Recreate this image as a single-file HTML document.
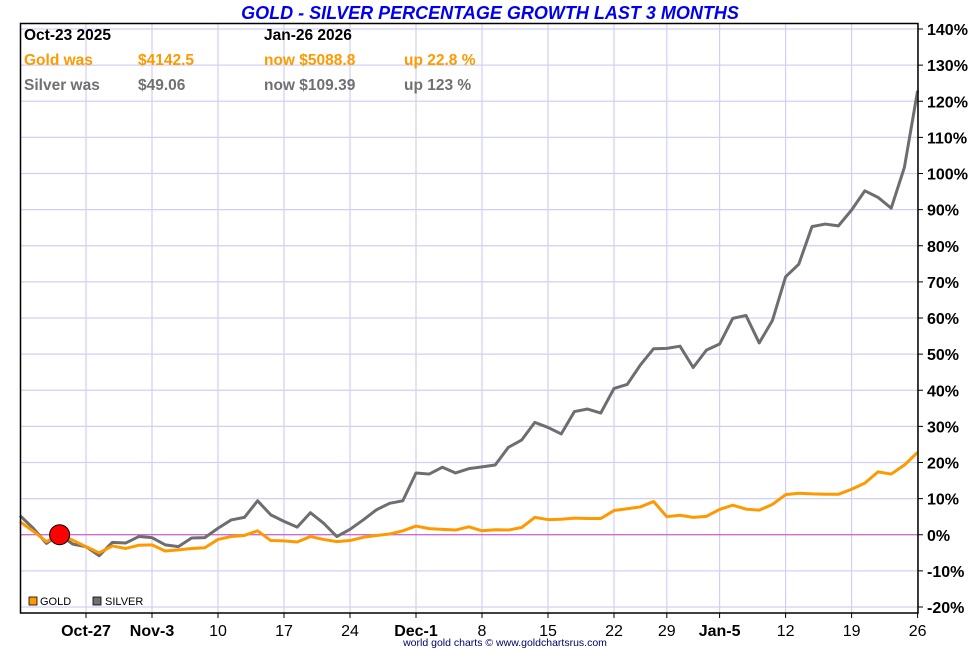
<!DOCTYPE html>
<html><head><meta charset="utf-8"><style>
html,body{margin:0;padding:0;background:#fff;}
svg{display:block;font-family:"Liberation Sans",sans-serif;}
</style></head><body>
<svg id="chart" width="980" height="650" viewBox="0 0 980 650">
<text x="490" y="19" text-anchor="middle" font-size="18" font-weight="bold" font-style="italic" fill="#0000ee">GOLD - SILVER PERCENTAGE GROWTH LAST 3 MONTHS</text>
<g id="grid"></g>
<line x1="20" y1="534.75" x2="918" y2="534.75" stroke="#cc44cc" stroke-width="1"/>
<g id="series"></g>
<rect x="20.5" y="23.5" width="897.5" height="589.5" fill="none" stroke="#000" stroke-width="1.5"/>
<g id="yticks"></g>
<g id="xticks"></g>
<g font-size="15.5" font-weight="bold" style="white-space:pre">
<text x="24" y="40" fill="#000">Oct-23  2025</text>
<text x="264" y="40" fill="#000">Jan-26  2026</text>
<text x="24" y="65" fill="#ff9900">Gold was</text>
<text x="138" y="65" fill="#ff9900">$4142.5</text>
<text x="264" y="65" fill="#ff9900">now $5088.8</text>
<text x="404" y="65" fill="#ff9900">up 22.8 %</text>
<text x="24" y="90" fill="#707070">Silver was</text>
<text x="138" y="90" fill="#707070">$49.06</text>
<text x="264" y="90" fill="#707070">now $109.39</text>
<text x="404" y="90" fill="#707070">up 123 %</text>
</g>
<g font-size="11">
<rect x="29" y="597" width="8" height="8" fill="#ff9900" stroke="#000" stroke-width="0.8"/>
<text x="40" y="605" fill="#000">GOLD</text>
<rect x="93" y="597" width="8" height="8" fill="#707070" stroke="#000" stroke-width="0.8"/>
<text x="105" y="605" fill="#000">SILVER</text>
</g>
<text x="505" y="646" text-anchor="middle" font-size="10.5" fill="#000066">world gold charts © www.goldchartsrus.com</text>
</svg>
<script>
const gold = [3.6,1.0,-1.9,0,-1.5,-3.3,-5.0,-3.1,-3.8,-2.9,-2.8,-4.5,-4.2,-3.8,-3.6,-1.3,-0.5,-0.2,1.1,-1.6,-1.7,-2.0,-0.5,-1.3,-1.9,-1.6,-0.7,-0.2,0.2,1.1,2.4,1.7,1.5,1.3,2.2,1.1,1.4,1.3,2.0,4.8,4.2,4.3,4.6,4.5,4.5,6.7,7.2,7.7,9.2,5.0,5.4,4.8,5.1,7.0,8.2,7.1,6.8,8.4,11.1,11.5,11.3,11.2,11.2,12.6,14.3,17.4,16.8,19.3,22.8];
const silver = [5.3,1.8,-2.4,0,-2.6,-3.3,-5.8,-2.1,-2.3,-0.5,-0.8,-2.8,-3.3,-0.9,-0.8,1.8,4.1,4.8,9.4,5.5,3.7,2.1,6.1,3.2,-0.5,1.5,4.1,6.9,8.7,9.4,17.1,16.8,18.7,17.1,18.3,18.8,19.3,24.2,26.2,31.1,29.7,27.9,34.1,34.8,33.7,40.5,41.6,47.0,51.5,51.6,52.2,46.3,51.1,52.8,59.9,60.7,53.1,59.3,71.4,74.9,85.3,86.0,85.5,89.9,95.2,93.4,90.4,101.7,122.9];
const yTicks = [140,130,120,110,100,90,80,70,60,50,40,30,20,10,0,-10,-20];
const xTickIdx = [5,10,15,20,25,30,35,40,45,49,53,58,63,68];
const xTickLabels = ["Oct-27","Nov-3","10","17","24","Dec-1","8","15","22","29","Jan-5","12","19","26"];
const xTickBold = [1,1,0,0,0,1,0,0,0,0,1,0,0,0];
const startIdx = 3;

const NS="http://www.w3.org/2000/svg";
const xs = i => 20 + i*13.2;
const ys = v => 534.75 - v*3.6125;
function mk(tag, attrs, parent, txt){const e=document.createElementNS(NS,tag);for(const k in attrs)e.setAttribute(k,attrs[k]);if(txt!==undefined)e.textContent=txt;parent.appendChild(e);return e;}
const grid=document.getElementById('grid'), yt=document.getElementById('yticks'), xt=document.getElementById('xticks'), ser=document.getElementById('series');
yTicks.forEach(v=>{
  const l=mk('line',{x1:20,x2:918,y1:ys(v),y2:ys(v),stroke:'#d0d0f4','stroke-width':1.2},grid);
  
  
  const t=mk('line',{x1:918,x2:923,y1:ys(v),y2:ys(v),stroke:'#000'},yt);
  
  
  const tx=mk('text',{x:927,y:ys(v)+6,'font-size':16,'font-weight':'bold',fill:'#000'},yt,v+'%');
  
  
});
xTickIdx.forEach((i,k)=>{
  const l=mk('line',{x1:xs(i),x2:xs(i),y1:23,y2:613,stroke:'#d0d0f4','stroke-width':1.2},grid);
  
  
  const t=mk('line',{x1:xs(i),x2:xs(i),y1:613,y2:618,stroke:'#000'},xt);
  
  
  const tx=mk('text',{x:xs(i),y:636,'text-anchor':'middle','font-size':16,'font-weight':xTickBold[k]?'bold':'normal',fill:'#000'},xt,xTickLabels[k]);
  
  
});
function line(data,color,name){
  const p=mk('polyline',{points:data.map((v,i)=>xs(i)+','+ys(v)).join(' '),fill:'none',stroke:color,'stroke-width':3,'stroke-linejoin':'round'},ser);
  
  
}
line(silver,'#6e6e6e','silver-line');
line(gold,'#ff9900','gold-line');
const dot=mk('circle',{cx:xs(startIdx),cy:ys(gold[startIdx]),r:10,fill:'#ff0000',stroke:'#000','stroke-width':1},ser);


</script>
</body></html>
